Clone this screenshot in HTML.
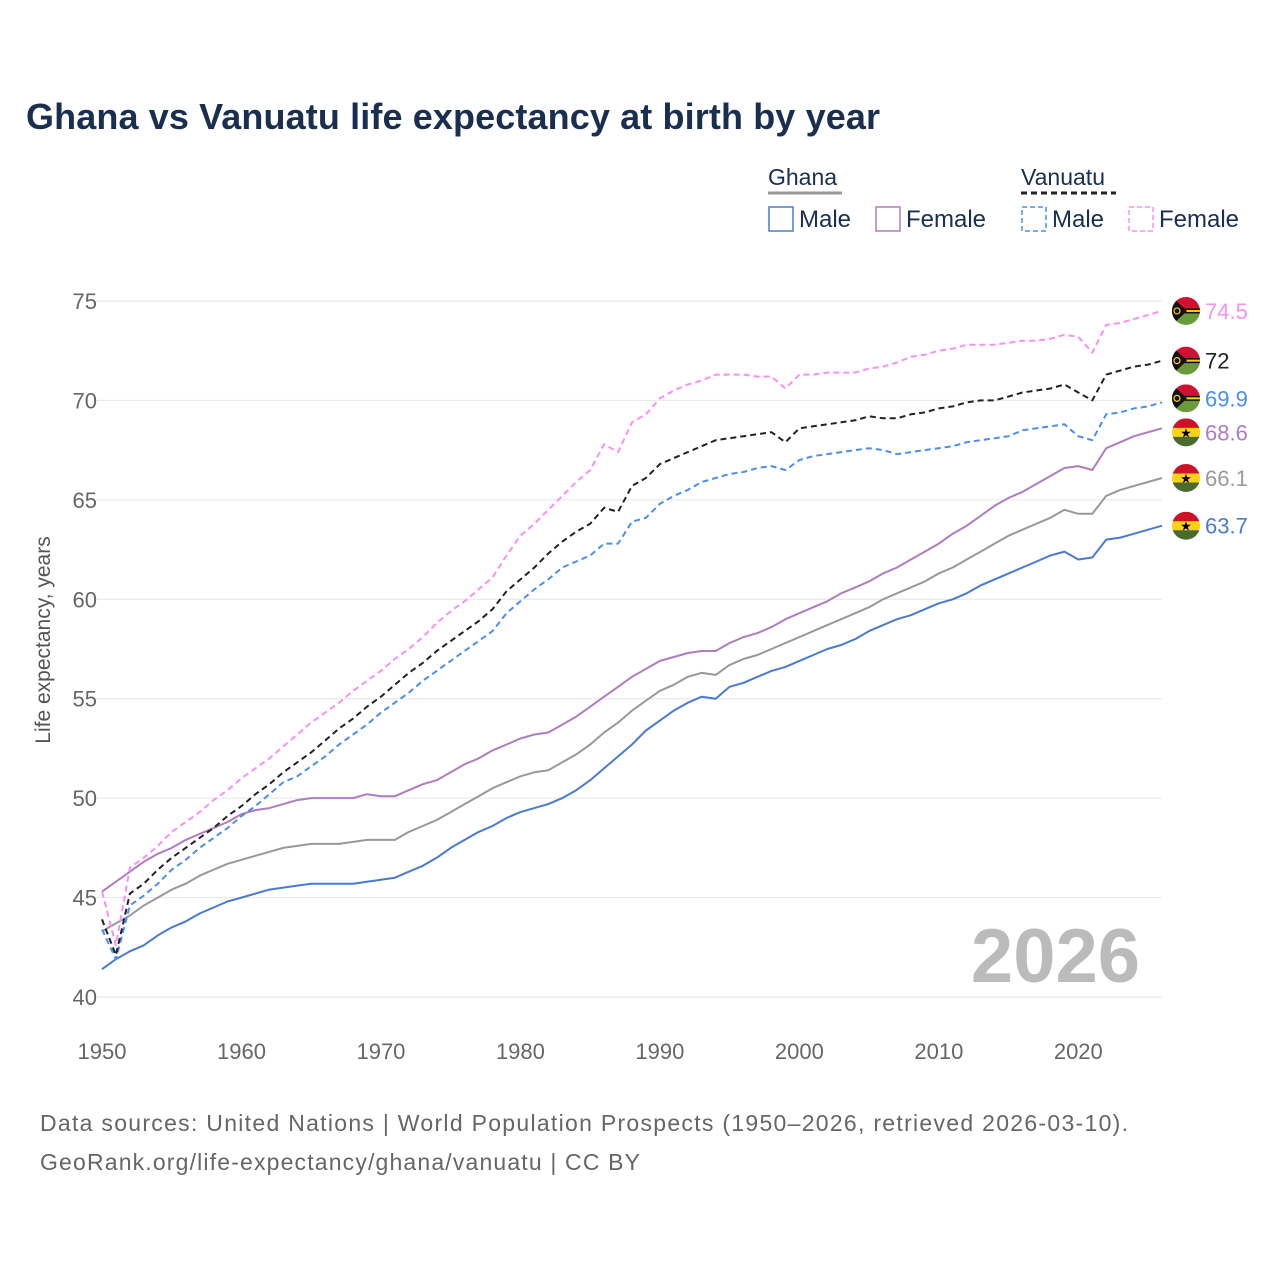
<!DOCTYPE html>
<html><head><meta charset="utf-8">
<style>
body{margin:0;background:#fff;}
svg text{font-family:"Liberation Sans",sans-serif;}
</style></head>
<body>
<svg id="chart" width="1280" height="1280" viewBox="0 0 1280 1280" xmlns="http://www.w3.org/2000/svg">
<rect width="1280" height="1280" fill="#fff"/>
<text x="26" y="129" font-size="36" font-weight="bold" fill="#1a2e4f" textLength="854">Ghana vs Vanuatu life expectancy at birth by year</text>
<g id="legend">
<text x="768" y="185" font-size="23" fill="#1a2e4f">Ghana</text>
<line x1="768" y1="193" x2="842" y2="193" stroke="#999" stroke-width="3"/>
<text x="1021" y="185" font-size="23" fill="#1a2e4f">Vanuatu</text>
<line x1="1021" y1="193" x2="1116" y2="193" stroke="#222" stroke-width="3" stroke-dasharray="6,4"/>
<g><rect x="769" y="207" width="24" height="24" fill="none" stroke="#4a7bd0" stroke-width="1.5"/><text x="799" y="227" font-size="24" fill="#1a2e4f">Male</text></g>
<g><rect x="876" y="207" width="24" height="24" fill="none" stroke="#b07cc0" stroke-width="1.5"/><text x="906" y="227" font-size="24" fill="#1a2e4f">Female</text></g>
<g><rect x="1022" y="207" width="24" height="24" fill="none" stroke="#4a8ef0" stroke-width="1.5" stroke-dasharray="5,3"/><text x="1052" y="227" font-size="24" fill="#1a2e4f">Male</text></g>
<g><rect x="1129" y="207" width="24" height="24" fill="none" stroke="#f78ff7" stroke-width="1.5" stroke-dasharray="5,3"/><text x="1159" y="227" font-size="24" fill="#1a2e4f">Female</text></g>
</g>
<text transform="translate(50,640) rotate(-90)" text-anchor="middle" font-size="21" fill="#555">Life expectancy, years</text>
<text x="1140" y="982" text-anchor="end" font-size="76" font-weight="bold" fill="#bbb">2026</text>
<g id="grid"></g><g id="axes"></g><g id="lines"></g><g id="ends"></g>
<text x="40" y="1131" font-size="23" fill="#666" textLength="1088">Data sources: United Nations | World Population Prospects (1950–2026, retrieved 2026-03-10).</text>
<text x="40" y="1170" font-size="23" fill="#666" textLength="600">GeoRank.org/life-expectancy/ghana/vanuatu | CC BY</text>
</svg>
<script>
const yTicks=[40,45,50,55,60,65,70,75];
const xTicks=[1950,1960,1970,1980,1990,2000,2010,2020];
const startYear=1950;
const ghanaMale=[41.4,41.9,42.3,42.6,43.1,43.5,43.8,44.2,44.5,44.8,45.0,45.2,45.4,45.5,45.6,45.7,45.7,45.7,45.7,45.8,45.9,46.0,46.3,46.6,47.0,47.5,47.9,48.3,48.6,49.0,49.3,49.5,49.7,50.0,50.4,50.9,51.5,52.1,52.7,53.4,53.9,54.4,54.8,55.1,55.0,55.6,55.8,56.1,56.4,56.6,56.9,57.2,57.5,57.7,58.0,58.4,58.7,59.0,59.2,59.5,59.8,60.0,60.3,60.7,61.0,61.3,61.6,61.9,62.2,62.4,62.0,62.1,63.0,63.1,63.3,63.5,63.7];
const ghanaTotal=[43.3,43.7,44.1,44.6,45.0,45.4,45.7,46.1,46.4,46.7,46.9,47.1,47.3,47.5,47.6,47.7,47.7,47.7,47.8,47.9,47.9,47.9,48.3,48.6,48.9,49.3,49.7,50.1,50.5,50.8,51.1,51.3,51.4,51.8,52.2,52.7,53.3,53.8,54.4,54.9,55.4,55.7,56.1,56.3,56.2,56.7,57.0,57.2,57.5,57.8,58.1,58.4,58.7,59.0,59.3,59.6,60.0,60.3,60.6,60.9,61.3,61.6,62.0,62.4,62.8,63.2,63.5,63.8,64.1,64.5,64.3,64.3,65.2,65.5,65.7,65.9,66.1];
const ghanaFemale=[45.3,45.8,46.3,46.8,47.2,47.5,47.9,48.2,48.5,48.8,49.2,49.4,49.5,49.7,49.9,50.0,50.0,50.0,50.0,50.2,50.1,50.1,50.4,50.7,50.9,51.3,51.7,52.0,52.4,52.7,53.0,53.2,53.3,53.7,54.1,54.6,55.1,55.6,56.1,56.5,56.9,57.1,57.3,57.4,57.4,57.8,58.1,58.3,58.6,59.0,59.3,59.6,59.9,60.3,60.6,60.9,61.3,61.6,62.0,62.4,62.8,63.3,63.7,64.2,64.7,65.1,65.4,65.8,66.2,66.6,66.7,66.5,67.6,67.9,68.2,68.4,68.6];
const vanuatuTotal=[43.9,42.1,45.2,45.7,46.4,47.0,47.5,48.0,48.5,49.1,49.6,50.2,50.7,51.3,51.8,52.3,52.9,53.5,54.0,54.6,55.1,55.7,56.3,56.8,57.4,57.9,58.4,58.9,59.5,60.4,61.0,61.6,62.3,62.9,63.4,63.8,64.6,64.4,65.7,66.1,66.8,67.1,67.4,67.7,68.0,68.1,68.2,68.3,68.4,67.9,68.6,68.7,68.8,68.9,69.0,69.2,69.1,69.1,69.3,69.4,69.6,69.7,69.9,70.0,70.0,70.2,70.4,70.5,70.6,70.8,70.4,70.0,71.3,71.5,71.7,71.8,72.0];
const vanuatuMale=[43.4,41.9,44.6,45.1,45.7,46.4,46.9,47.5,48.0,48.5,49.1,49.6,50.2,50.8,51.1,51.6,52.1,52.7,53.2,53.7,54.3,54.8,55.3,55.9,56.4,56.9,57.4,57.9,58.4,59.3,59.9,60.5,61.0,61.6,61.9,62.2,62.8,62.8,63.9,64.1,64.8,65.2,65.5,65.9,66.1,66.3,66.4,66.6,66.7,66.5,67.0,67.2,67.3,67.4,67.5,67.6,67.5,67.3,67.4,67.5,67.6,67.7,67.9,68.0,68.1,68.2,68.5,68.6,68.7,68.8,68.2,68.0,69.3,69.4,69.6,69.7,69.9];
const vanuatuFemale=[45.3,42.6,46.5,47.0,47.6,48.3,48.8,49.3,49.9,50.4,51.0,51.5,52.0,52.6,53.2,53.8,54.3,54.8,55.4,55.9,56.4,57.0,57.5,58.1,58.8,59.4,59.9,60.5,61.1,62.2,63.2,63.8,64.5,65.2,65.9,66.5,67.8,67.4,68.9,69.3,70.1,70.5,70.8,71.0,71.3,71.3,71.3,71.2,71.2,70.6,71.3,71.3,71.4,71.4,71.4,71.6,71.7,71.9,72.2,72.3,72.5,72.6,72.8,72.8,72.8,72.9,73.0,73.0,73.1,73.3,73.2,72.4,73.8,73.9,74.1,74.3,74.5];
const endLabels=["74.5","72","69.9","68.6","66.1","63.7"];

const NS="http://www.w3.org/2000/svg";
const X0=102,X1=1162,Y0=997,Y1=301;
const x=v=>X0+(v-1950)*(X1-X0)/76;
const y=v=>Y0-(v-40)*(Y0-Y1)/35;
function mk(tag,attrs,parent){const e=document.createElementNS(NS,tag);for(const k in attrs)e.setAttribute(k,attrs[k]);parent.appendChild(e);return e;}
const grid=document.getElementById('grid'),axes=document.getElementById('axes'),lines=document.getElementById('lines'),ends=document.getElementById('ends');
yTicks.forEach(t=>{
  const l=mk('line',{x1:X0-6,x2:X1,y1:y(t),y2:y(t),stroke:'#e6e6e6','stroke-width':1},grid);
  
  
  const tx=mk('text',{x:97,y:y(t)+8,'text-anchor':'end','font-size':22,fill:'#666'},axes);
  tx.textContent=t;
  
  
});
xTicks.forEach(t=>{
  const tx=mk('text',{x:x(t),y:1059,'text-anchor':'middle','font-size':22,fill:'#666'},axes);
  tx.textContent=t;
  
  
});
const series=[
 {d:ghanaTotal,c:'#999',dash:null,n:'ghana-total'},
 {d:ghanaMale,c:'#4a7bd0',dash:null,n:'ghana-male'},
 {d:ghanaFemale,c:'#b07cc0',dash:null,n:'ghana-female'},
 {d:vanuatuMale,c:'#4a8ef0',dash:'6,4',n:'vanuatu-male'},
 {d:vanuatuFemale,c:'#f78ff7',dash:'6,4',n:'vanuatu-female'},
 {d:vanuatuTotal,c:'#222',dash:'6,4',n:'vanuatu-total'}
];
series.forEach(s=>{
  const pts=s.d.map((v,i)=>x(startYear+i).toFixed(1)+','+y(v).toFixed(1)).join(' ');
  const a={points:pts,fill:'none',stroke:s.c,'stroke-width':2,'stroke-linejoin':'round'};
  if(s.dash)a['stroke-dasharray']=s.dash;
  const p=mk('polyline',a,lines);
  
  
});
const endSeries=[
 {d:vanuatuFemale,c:'#f78ff7',f:'v',l:endLabels[0],n:'vanuatu-female'},
 {d:vanuatuTotal,c:'#222',f:'v',l:endLabels[1],n:'vanuatu-total'},
 {d:vanuatuMale,c:'#4a8ef0',f:'v',l:endLabels[2],n:'vanuatu-male'},
 {d:ghanaFemale,c:'#b07cc0',f:'g',l:endLabels[3],n:'ghana-female'},
 {d:ghanaTotal,c:'#999',f:'g',l:endLabels[4],n:'ghana-total'},
 {d:ghanaMale,c:'#4a7bd0',f:'g',l:endLabels[5],n:'ghana-male'}
];
// symmetric collision relaxation
const pos=endSeries.map(s=>y(s.d[s.d.length-1]));
for(let it=0;it<50;it++){
  for(let i=1;i<pos.length;i++){
    const gap=pos[i]-pos[i-1];
    if(gap<34){const m=(34-gap)/2;pos[i-1]-=m;pos[i]+=m;}
  }
}
endSeries.forEach((s,i)=>{
  const cy=pos[i];
  const cx=1186;
  const g=mk('g',{},ends);
  
  
  const id='clip'+i;
  const cp=mk('clipPath',{id:id},g);mk('circle',{cx:cx,cy:cy,r:14},cp);
  const fg=mk('g',{'clip-path':'url(#'+id+')'},g);
  if(s.f==='v'){
    mk('rect',{x:cx-14,y:cy-14,width:28,height:14,fill:'#d21034'},fg);
    mk('rect',{x:cx-14,y:cy,width:28,height:14,fill:'#6a9a3a'},fg);
    mk('rect',{x:cx-14,y:cy-2.5,width:28,height:5,fill:'#111'},fg);
    mk('rect',{x:cx-14,y:cy-1,width:28,height:2,fill:'#fdce12'},fg);
    mk('polygon',{points:(cx-14)+','+(cy-14)+' '+(cx+1)+','+cy+' '+(cx-14)+','+(cy+14),fill:'#111'},fg);
    mk('circle',{cx:cx-9,cy:cy,r:3,fill:'none',stroke:'#fdce12','stroke-width':1.2},fg);
  } else {
    mk('rect',{x:cx-14,y:cy-14,width:28,height:10,fill:'#ce1126'},fg);
    mk('rect',{x:cx-14,y:cy-4.5,width:28,height:9,fill:'#fcd116'},fg);
    mk('rect',{x:cx-14,y:cy+4.5,width:28,height:10,fill:'#4a6b2f'},fg);
    const st=mk('text',{x:cx,y:cy+5,'text-anchor':'middle','font-size':13,fill:'#000'},fg);st.textContent='★';
  }
  const t=mk('text',{x:1205,y:cy+8,'font-size':22,fill:s.c},ends);
  t.textContent=s.l;
  
  
});
</script>
</body></html>
